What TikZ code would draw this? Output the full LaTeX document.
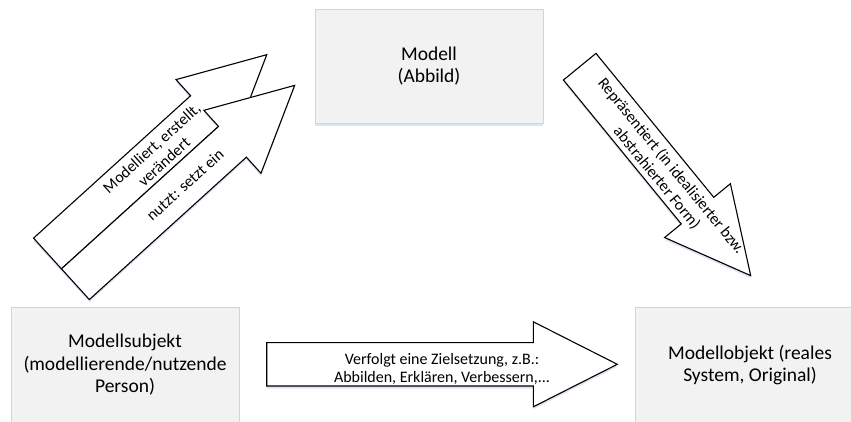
\documentclass[tikz,border=0pt]{standalone}
\usepackage{fontspec}
\setmainfont{Carlito}
\usetikzlibrary{shadows}
\definecolor{boxfill}{HTML}{F2F2F2}
\definecolor{boxgray}{HTML}{D4D4D4}
\definecolor{shadowblue}{HTML}{DCE5F3}
% #1 name of text anchor, #2 tail centre, #3 angle, #4 length, #5 shaft half-width, #6 text offset
\newcommand\blkarrow[6]{%
  \begin{scope}[yshift=-2.5pt]
    \begin{scope}[shift={#2}, rotate=#3]
      \fill[shadowblue] (0,-#5) -- (#4-84,-#5) -- (#4-84,-42.5) -- (#4,0) -- (#4-84,42.5) -- (#4-84,#5) -- (0,#5) -- cycle;
    \end{scope}
  \end{scope}
  \begin{scope}[shift={#2}, rotate=#3]
    \draw[arrowline] (0,-#5) -- (#4-84,-#5) -- (#4-84,-42.5) -- (#4,0) -- (#4-84,42.5) -- (#4-84,#5) -- (0,#5) -- cycle;
    \coordinate (#1) at ({#4/2},#6);
  \end{scope}}
\begin{document}
\begin{tikzpicture}[x=1pt,y=1pt,
  box/.style={draw=boxgray, fill=boxfill, line width=0.8pt, inner sep=0pt,
    general shadow={fill=shadowblue, shadow yshift=-3pt},
    font=\fontsize{19.5}{22.5}\selectfont, align=center},
  arrowline/.style={draw=black, fill=white, line width=1.1pt, line join=miter},
  arrowtext/.style={font=\fontsize{16}{18.5}\selectfont, align=center, inner sep=0pt}]
\useasboundingbox (0,0) rectangle (851,421);
\clip (0,0) rectangle (851,421);

% boxes
\node[box, minimum width=228, minimum height=114] (modell) at (429,355) {Modell\\(Abbild)};
\node[box, minimum width=228, minimum height=116] (subj) at (125,56) {Modellsubjekt\\(modellierende/nutzende\\Person)};
\node[box, minimum width=230, minimum height=116] (obj) at (750,56) {Modellobjekt (reales\\System, Original)};

% block arrows
\blkarrow{a1}{(47.5,167.5)}{42.2}{296}{20.75}{-1}
\blkarrow{a2}{(75.4,136.8)}{42.2}{296}{20.75}{0}
\blkarrow{a3}{(579.7,354.3)}{-50.7}{270}{21}{-1.5}
\blkarrow{a4}{(266.7,56.7)}{0}{350.6}{21.7}{-4.5}

% arrow texts
\node[arrowtext, rotate=42.2] (t1) at (a1) {Modelliert, erstellt,\\verändert};
\node[arrowtext, rotate=42.2] (t2) at (a2) {nutzt: setzt ein};
\node[arrowtext, rotate=-50.7] (t3) at (a3) {Repräsentiert (in idealisierter bzw.\\abstrahierter Form)};
\node[arrowtext] (t4) at (a4) {Verfolgt eine Zielsetzung, z.B.:\\Abbilden, Erklären, Verbessern,...};
\end{tikzpicture}
\end{document}
